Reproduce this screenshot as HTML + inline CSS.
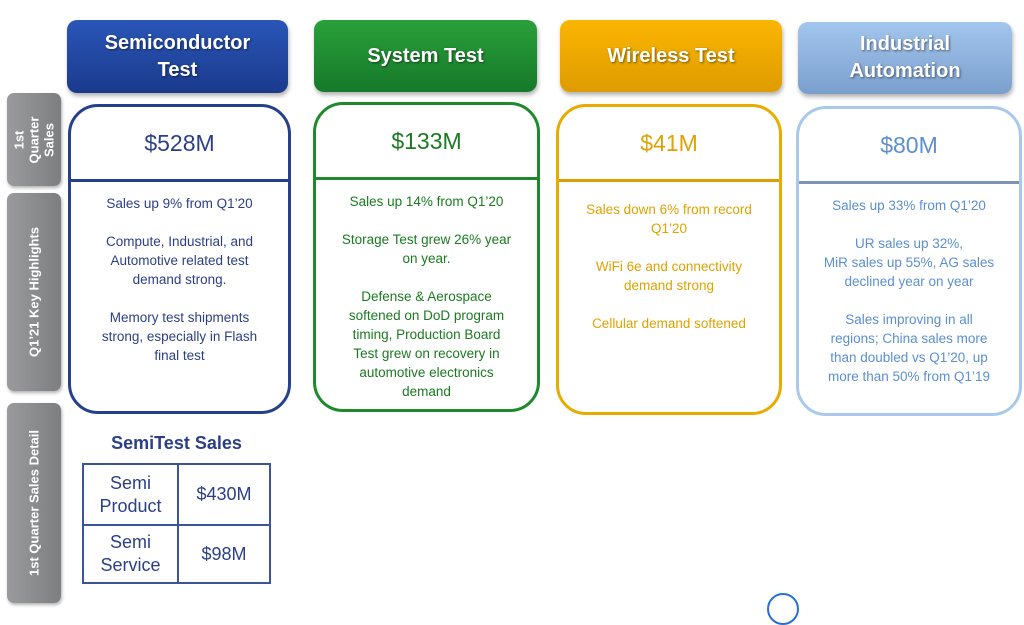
<!DOCTYPE html>
<html><head><meta charset="utf-8"><style>
body{margin:0;width:1024px;height:601px;background:#fff;position:relative;overflow:hidden;font-family:"Liberation Sans",sans-serif}
.h{position:absolute;border-radius:10px;color:#fff;font-weight:bold;font-size:20px;text-align:center;display:flex;align-items:center;justify-content:center;line-height:27px;text-shadow:1px 1px 2px rgba(0,0,0,.5);box-shadow:1px 3px 4px rgba(0,0,0,.3)}
.c{position:absolute;border:3px solid;border-radius:30px;box-sizing:border-box;text-align:center}
.c .v{height:72px;display:flex;align-items:center;justify-content:center;font-size:23px;border-bottom:3px solid}
.c .t{font-size:13.5px;line-height:19px;padding-top:12px}
.c .t p{margin:0 0 19px}
.tab{position:absolute;left:7px;width:54px;border-radius:7px;background:linear-gradient(90deg,#9a9b9d,#7d7e80);box-shadow:1px 2px 3px rgba(0,0,0,.3)}
.tab span{position:absolute;left:50%;top:50%;transform:translate(-50%,-50%) rotate(-90deg);color:#fff;font-weight:bold;font-size:13px;white-space:nowrap;text-align:center;line-height:15px}
table{position:absolute;left:82px;top:463px;width:189px;table-layout:fixed;border-collapse:collapse;color:#2b3f86;font-size:18px;text-align:center}
td{border:2px solid #3c5598;line-height:23px;padding:0}
</style></head><body>
<div class="h" style="left:67px;top:20px;width:221px;height:73px;background:linear-gradient(#2a56b8,#1b3a8c)">Semiconductor<br>Test</div>
<div class="h" style="left:314px;top:20px;width:223px;height:72px;background:linear-gradient(#2aa03a,#16792a)">System Test</div>
<div class="h" style="left:560px;top:20px;width:222px;height:72px;background:linear-gradient(#fbb500,#de9c00)">Wireless Test</div>
<div class="h" style="left:798px;top:22px;width:214px;height:72px;background:linear-gradient(#a3c6ee,#7b9fcd)">Industrial<br>Automation</div>

<div class="tab" style="top:93px;height:93px"><span>1st<br>Quarter<br>Sales</span></div>
<div class="tab" style="top:193px;height:198px"><span>Q1’21 Key Highlights</span></div>
<div class="tab" style="top:403px;height:200px"><span>1st Quarter Sales Detail</span></div>

<div class="c" style="left:68px;top:104px;width:223px;height:310px;border-color:#24418c;color:#2b3f86"><div class="v" style="border-color:#24418c">$528M</div><div class="t" style="padding-left:26px;padding-right:26px"><p>Sales up 9% from Q1’20</p><p>Compute, Industrial, and Automotive related test demand strong.</p><p>Memory test shipments strong, especially in Flash final test</p></div></div>
<div class="c" style="left:313px;top:102px;width:227px;height:310px;border-color:#1e8a2c;color:#1a7a20"><div class="v" style="border-color:#1e8a2c">$133M</div><div class="t" style="padding-left:24px;padding-right:24px"><p>Sales up 14% from Q1’20</p><p>Storage Test grew 26% year on year.</p><p>Defense &amp; Aerospace softened on DoD program timing, Production Board Test grew on recovery in automotive electronics demand</p></div></div>
<div class="c" style="left:556px;top:104px;width:226px;height:311px;border-color:#e8ac00;color:#e0a200"><div class="v" style="border-color:#d9a000">$41M</div><div class="t" style="padding:18px 22px 0"><p>Sales down 6% from record Q1’20</p><p>WiFi 6e and connectivity demand strong</p><p>Cellular demand softened</p></div></div>
<div class="c" style="left:796px;top:106px;width:226px;height:310px;border-color:#a8c8ec;color:#5b8fd0"><div class="v" style="border-color:#7d95b5">$80M</div><div class="t" style="padding-left:22px;padding-right:22px"><p>Sales up 33% from Q1’20</p><p>UR sales up 32%,<br>MiR sales up 55%, AG sales declined year on year</p><p>Sales improving in all<br>regions; China sales more than doubled vs Q1’20, up more than 50% from Q1’19</p></div></div>

<div style="position:absolute;left:82px;top:433px;width:189px;text-align:center;color:#2b3f86;font-weight:bold;font-size:18px">SemiTest Sales</div>
<table><tr><td style="width:93px;height:59px">Semi<br>Product</td><td>$430M</td></tr><tr><td style="height:56px">Semi<br>Service</td><td>$98M</td></tr></table>
<div style="position:absolute;left:767px;top:593px;width:28px;height:28px;border:2px solid #2a6fd0;border-radius:50%"></div>
</body></html>
